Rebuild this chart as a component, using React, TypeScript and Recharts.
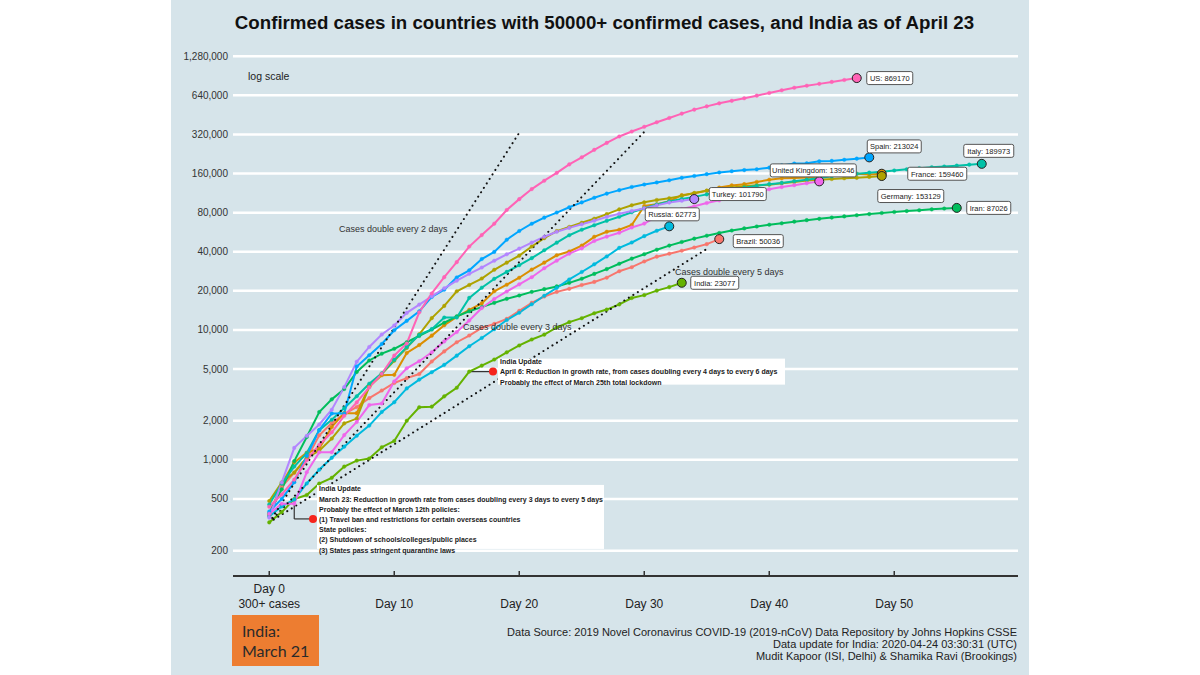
import React from "react";
import {
  CartesianGrid,
  Line,
  LineChart,
  ReferenceDot,
  ReferenceLine,
  XAxis,
  YAxis,
} from "recharts";

// Confirmed cases per day since the first day with 300+ cases (day 0).
const BRAZIL = [372, 621, 793, 1021, 1546, 1924, 2247, 2554, 2985, 3417, 3904, 4256, 4579, 5717, 6836, 8044, 9056, 10360, 11130, 12161, 14034, 16170, 18092, 19638, 20727, 22192, 23430, 25262, 28320, 30425, 33682, 36658, 38654, 40743, 43079, 45757, 50036];
const FRANCE = [380, 656, 957, 1134, 1217, 1792, 2289, 2289, 3672, 4480, 4513, 6650, 7652, 9043, 10871, 12612, 14282, 16018, 19856, 22304, 25233, 29155, 32964, 37575, 40174, 44550, 52128, 56989, 59105, 64338, 89953, 92839, 98010, 109069, 112950, 117749, 124869, 129654, 132591, 137875, 143303, 147091, 147969, 149232, 149149, 154097, 156480, 159297, 157125, 159460];
const GERMANY = [482, 670, 799, 1040, 1176, 1457, 1908, 2078, 3675, 4585, 5795, 7272, 9257, 12327, 15320, 19848, 22213, 24873, 29056, 32986, 37323, 43938, 50871, 57695, 62095, 66885, 71808, 77872, 84794, 91159, 96092, 100123, 103374, 107663, 113296, 118181, 122171, 124908, 127854, 130072, 131359, 134753, 137698, 141397, 143342, 145184, 147065, 148291, 150648, 153129];
const INDIA = [330, 396, 499, 536, 657, 727, 887, 987, 1024, 1251, 1397, 1998, 2543, 2567, 3082, 3588, 4778, 5311, 5916, 6725, 7598, 8446, 9205, 10453, 11487, 12322, 13430, 14352, 15722, 17615, 18539, 20080, 21370, 23077];
const IRAN = [388, 593, 978, 1501, 2336, 2922, 3513, 4747, 5823, 6566, 7161, 8042, 9000, 10075, 11364, 12729, 13938, 14991, 16169, 17361, 18407, 19644, 20610, 21638, 23049, 24811, 27017, 29406, 32332, 35408, 38309, 41495, 44605, 47593, 50468, 53183, 55743, 58226, 60500, 62589, 64586, 66220, 68192, 70029, 71686, 73303, 74877, 76389, 77995, 79494, 80868, 82211, 83505, 84802, 85996, 87026];
const ITALY = [453, 655, 888, 1128, 1694, 2036, 2502, 3089, 3858, 4636, 5883, 7375, 9172, 10149, 12462, 12462, 17660, 21157, 24747, 27980, 31506, 35713, 41035, 47021, 53578, 59138, 63927, 69176, 74386, 80589, 86498, 92472, 97689, 101739, 105792, 110574, 115242, 119827, 124632, 128948, 132547, 135586, 139422, 143626, 147577, 152271, 156363, 159516, 162488, 165155, 168941, 172434, 175925, 178972, 181228, 183957, 187327, 189973];
const RUSSIA = [367, 438, 495, 658, 840, 1036, 1264, 1534, 1836, 2337, 2777, 3548, 4149, 4731, 5389, 6343, 7497, 8672, 10131, 11917, 13584, 15770, 18328, 21102, 24490, 27938, 32008, 36793, 42853, 47121, 52763, 57999, 62773];
const SPAIN = [400, 500, 673, 1073, 1695, 2277, 2277, 5232, 6391, 7798, 9942, 11748, 13910, 17963, 20410, 25374, 28768, 35136, 39885, 49515, 57786, 65719, 73235, 80110, 87956, 95923, 104118, 112065, 119199, 126168, 131646, 136675, 141942, 148220, 153222, 158273, 163027, 166831, 170099, 172541, 177644, 184948, 190839, 191726, 198674, 200210, 204178, 208389, 213024];
const TURKEY = [359, 670, 1236, 1529, 1872, 2433, 3629, 5698, 7402, 9217, 10827, 13531, 15679, 18135, 20921, 23934, 27069, 30217, 34109, 38226, 42282, 47029, 52167, 56956, 61049, 65111, 69392, 74193, 78546, 82329, 86306, 90980, 95591, 98674, 101790];
const UK = [384, 459, 459, 802, 1144, 1145, 1551, 1960, 2642, 2716, 4014, 5067, 5745, 6726, 8164, 9640, 11812, 14745, 17312, 19780, 22453, 25481, 29865, 34173, 38689, 42477, 48436, 52279, 55949, 61474, 65872, 74605, 79874, 85206, 89570, 94845, 99483, 104145, 109769, 115314, 121172, 125856, 130172, 134638, 139246];
const US = [435, 541, 704, 994, 1301, 1630, 2183, 2770, 3613, 4596, 6344, 7869, 13677, 19100, 25489, 33276, 43847, 53740, 65778, 83836, 101657, 121465, 140909, 161831, 188172, 213242, 243622, 275367, 308650, 336802, 366317, 397121, 428654, 462780, 496535, 526396, 555313, 580619, 607670, 636350, 667592, 699706, 732197, 759086, 784326, 811865, 840351, 869170];

// reference lines: [day, cases] at both ends
const DOUBLE_2 = [[0, 330], [20, 330000]];
const DOUBLE_3 = [[0, 330], [30, 335000]];
const DOUBLE_5 = [[0, 330], [35, 42000]];

const Y_TICKS = [200, 500, 1000, 2000, 5000, 10000, 20000, 40000, 80000, 160000, 320000, 640000, 1280000];
const X_TICKS = [0, 10, 20, 30, 40, 50];

const NOTE_MARCH = [
  "India Update",
  "March 23: Reduction in growth rate from cases doubling every 3 days to every 5 days",
  "Probably the effect of March 12th policies:",
  "(1) Travel ban and restrictions for certain overseas countries",
  "State policies:",
  "(2) Shutdown of schools/colleges/public places",
  "(3) States pass stringent quarantine laws",
];
const NOTE_APRIL = [
  "India Update",
  "April 6: Reduction in growth rate, from cases doubling every 4 days to every 6 days",
  "Probably the effect of March 25th total lockdown",
];

const SERIES = [
  { name: "Brazil", values: BRAZIL, color: "#F8766D" },
  { name: "France", values: FRANCE, color: "#DB8E00" },
  { name: "Germany", values: GERMANY, color: "#AEA200" },
  { name: "India", values: INDIA, color: "#64B200" },
  { name: "Iran", values: IRAN, color: "#00BD5C" },
  { name: "Italy", values: ITALY, color: "#00C1A7" },
  { name: "Russia", values: RUSSIA, color: "#00BADE" },
  { name: "Spain", values: SPAIN, color: "#00A6FF" },
  { name: "Turkey", values: TURKEY, color: "#B385FF" },
  { name: "United Kingdom", values: UK, color: "#EF67EB" },
  { name: "US", values: US, color: "#FF63B6" },
];

// where each end label box sits relative to its marker (px)
const LABEL_BOX: Record<string, { dx: number; dy: number; w: number }> = {
  Brazil: { dx: 14, dy: 2, w: 50 },
  France: { dx: 26, dy: 0, w: 59 },
  Germany: { dx: -4, dy: 20, w: 66 },
  India: { dx: 9, dy: 0, w: 48 },
  Iran: { dx: 10, dy: 0, w: 44 },
  Italy: { dx: -18, dy: -13, w: 50 },
  Russia: { dx: -24, dy: -12, w: 54 },
  Spain: { dx: -2, dy: -11, w: 54 },
  Turkey: { dx: 15, dy: -5, w: 57 },
  "United Kingdom": { dx: -49, dy: -11, w: 86 },
  US: { dx: 10, dy: 0, w: 46 },
};

const FONT = "'Liberation Sans', Arial, sans-serif";
const toPoints = (values: number[]) => values.map((cases, day) => ({ day, cases }));
const ends = (pairs: number[][]) => pairs.map(([day, cases]) => ({ day, cases }));

function YTick(props: any) {
  const { y, payload } = props;
  return (
    <text x={228} y={y + 3.5} textAnchor="end" fontSize={10} fill="#333" fontFamily={FONT}>
      {payload.value.toLocaleString("en-US")}
    </text>
  );
}

function XTick(props: any) {
  const { x, payload } = props;
  return (
    <g>
      <line x1={x} x2={x} y1={571} y2={576} stroke="#333" strokeWidth={1.5} />
      {payload.value === 0 ? (
        <>
          <text x={x} y={593} textAnchor="middle" fontSize={12} fill="#222" fontFamily={FONT}>Day 0</text>
          <text x={x} y={608} textAnchor="middle" fontSize={12} fill="#222" fontFamily={FONT}>300+ cases</text>
        </>
      ) : (
        <text x={x} y={608} textAnchor="middle" fontSize={12} fill="#222" fontFamily={FONT}>
          {`Day ${payload.value}`}
        </text>
      )}
    </g>
  );
}

function EndMark(props: any) {
  const { cx, cy, color, text, box } = props;
  const left = cx + box.dx;
  const top = cy + box.dy - 6.5;
  return (
    <g>
      <circle cx={cx} cy={cy} r={4.5} fill={color} stroke="#222" strokeWidth={1} />
      <rect x={left} y={top} width={box.w} height={13} rx={2} fill="#fff" stroke="#555" strokeWidth={1} />
      <text x={left + box.w / 2} y={top + 9.3} textAnchor="middle" fontSize={7.5} fill="#222" fontFamily={FONT}>
        {text}
      </text>
    </g>
  );
}

function Note(props: any) {
  const { cx, cy, lines, boxLeft, boxTop, boxW, boxH, firstLine } = props;
  return (
    <g>
      <rect x={cx + boxLeft} y={cy + boxTop} width={boxW} height={boxH} fill="#fff" />
      {lines.map((t: string, i: number) => (
        <text key={i} x={cx + boxLeft + 2} y={cy + firstLine + i * 10.2 + 2.5} fontSize={7} fontWeight="bold" fill="#1a1a1a" fontFamily={FONT}>
          {t}
        </text>
      ))}
      <circle cx={cx} cy={cy} r={4} fill="#f5241c" />
    </g>
  );
}

export default function App() {
  return (
    <div style={{ position: "absolute", left: 0, top: 0, width: 1200, height: 675, background: "#fff", overflow: "hidden", fontFamily: FONT }}>
      <div style={{ position: "absolute", left: 171, top: 0, width: 858, height: 675, background: "#d6e4ea" }} />
      <div style={{ position: "absolute", left: 0, top: 0 }}>
        <LineChart width={1200} height={675} margin={{ top: 49.2, right: 182, bottom: 39, left: 153 }}>
          <CartesianGrid vertical={false} horizontalValues={Y_TICKS} stroke="#fff" strokeWidth={2.5} />
          <XAxis
            dataKey="day"
            type="number"
            domain={[-2.9, 59.9]}
            ticks={X_TICKS}
            allowDataOverflow
            height={60}
            axisLine={{ stroke: "#333", strokeWidth: 2 }}
            tickLine={false}
            tick={<XTick />}
          />
          <YAxis
            type="number"
            scale="log"
            domain={[127.6, 1450000]}
            ticks={Y_TICKS}
            allowDataOverflow
            width={80}
            axisLine={false}
            tickLine={false}
            tick={<YTick />}
          />
          <ReferenceDot
            x={3.5}
            y={351}
            r={4}
            shape={(p: any) => <Note {...p} lines={NOTE_MARCH} boxLeft={4} boxTop={-34} boxW={287} boxH={64} firstLine={-30} />}
          />
          <ReferenceDot
            x={17.9}
            y={INDIA[16]}
            r={4}
            shape={(p: any) => <Note {...p} lines={NOTE_APRIL} boxLeft={5} boxTop={-13} boxW={287} boxH={26} firstLine={-10} />}
          />
          <ReferenceLine segment={[{ x: 2, y: INDIA[2] }, { x: 2, y: 351 }]} stroke="#333" strokeWidth={1.2} />
          <ReferenceLine segment={[{ x: 2, y: 351 }, { x: 3.5, y: 351 }]} stroke="#333" strokeWidth={1.2} />
          <ReferenceLine segment={[{ x: 16, y: INDIA[16] }, { x: 17.9, y: INDIA[16] }]} stroke="#333" strokeWidth={1.2} />
          {SERIES.map((s) => (
            <Line
              key={s.name}
              data={toPoints(s.values)}
              dataKey="cases"
              type="linear"
              stroke={s.color}
              strokeWidth={2}
              dot={{ r: 1.8, fill: s.color, stroke: s.color, strokeWidth: 0.4 }}
              activeDot={false}
              isAnimationActive={false}
            />
          ))}
          {[DOUBLE_2, DOUBLE_3, DOUBLE_5].map((d, i) => (
            <Line
              key={`double-${i}`}
              data={ends(d)}
              dataKey="cases"
              type="linear"
              stroke="#111"
              strokeWidth={2}
              strokeDasharray="0.1 5.2"
              strokeLinecap="round"
              dot={false}
              activeDot={false}
              isAnimationActive={false}
            />
          ))}
          {SERIES.map((s) => {
            const last = s.values.length - 1;
            return (
              <ReferenceDot
                key={`end-${s.name}`}
                x={last}
                y={s.values[last]}
                r={4.5}
                shape={(p: any) => (
                  <EndMark {...p} color={s.color} text={`${s.name}: ${s.values[last]}`} box={LABEL_BOX[s.name]} />
                )}
              />
            );
          })}
        </LineChart>
      </div>
      <svg width={1200} height={675} style={{ position: "absolute", left: 0, top: 0, pointerEvents: "none" }}>
        <text x={604.5} y={29} textAnchor="middle" fontSize={18.7} fontWeight="bold" fill="#111" fontFamily={FONT}>
          Confirmed cases in countries with 50000+ confirmed cases, and India as of April 23
        </text>
        <text x={248} y={79.5} fontSize={10.5} fill="#222" fontFamily={FONT}>log scale</text>
        <text x={339} y={232} fontSize={9} fill="#333" fontFamily={FONT}>Cases double every 2 days</text>
        <text x={463} y={330} fontSize={9} fill="#333" fontFamily={FONT}>Cases double every 3 days</text>
        <text x={675} y={275} fontSize={9} fill="#333" fontFamily={FONT}>Cases double every 5 days</text>
        <text x={1017} y={636} textAnchor="end" fontSize={11} fill="#222" fontFamily={FONT}>
          Data Source: 2019 Novel Coronavirus COVID-19 (2019-nCoV) Data Repository by Johns Hopkins CSSE
        </text>
        <text x={1017} y={648} textAnchor="end" fontSize={11} fill="#222" fontFamily={FONT}>
          Data update for India: 2020-04-24 03:30:31 (UTC)
        </text>
        <text x={1017} y={660} textAnchor="end" fontSize={11} fill="#222" fontFamily={FONT}>
          Mudit Kapoor (ISI, Delhi) &amp; Shamika Ravi (Brookings)
        </text>
      </svg>
      <div
        style={{
          position: "absolute",
          left: 232,
          top: 615,
          width: 77,
          height: 45,
          paddingLeft: 10,
          paddingTop: 6,
          background: "#ED7D31",
          color: "#2a2a2a",
          fontFamily: "Lato, 'Open Sans', sans-serif",
          fontSize: 16,
          lineHeight: "20px",
        }}
      >
        <div>India:</div>
        <div>March 21</div>
      </div>
    </div>
  );
}
